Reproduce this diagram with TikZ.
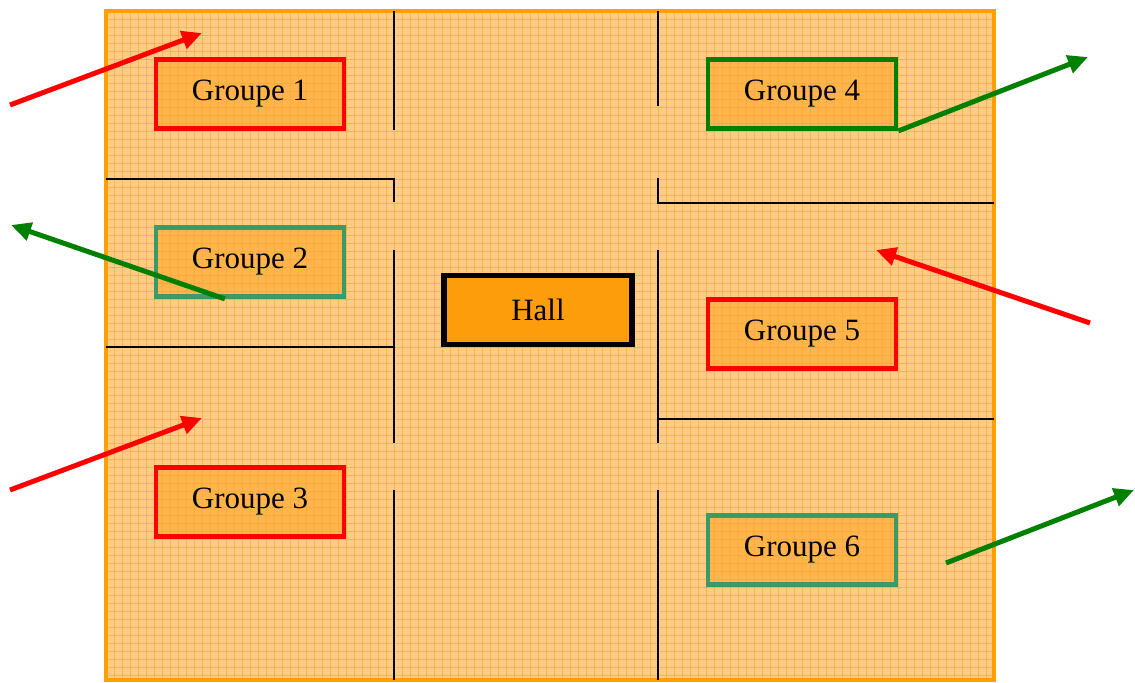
\documentclass[tikz,border=0pt]{standalone}
\usepackage{fontspec}
\setmainfont{Liberation Serif}
\usepackage{tikz}
\usetikzlibrary{arrows.meta,calc}
\definecolor{paleorange}{HTML}{FFCC85}
\definecolor{gridorange}{HTML}{FFA41F}
\definecolor{boxorange}{HTML}{FFA62A}
\definecolor{hallorange}{HTML}{FF9900}
\definecolor{framecol}{HTML}{FFA000}
\definecolor{darkgreen}{HTML}{008000}
\definecolor{tealgreen}{HTML}{3A9A68}
\tikzset{
  room/.style={draw=#1,line width=2.4pt,fill=boxorange,fill opacity=0.6,text opacity=1,
    text=black,minimum width=94pt,minimum height=34.5pt,inner sep=0pt,
    font=\fontsize{15.5}{18}\selectfont},
  wall/.style={line width=0.9pt,black},
  gridline/.style={line width=0.45pt,gridorange,opacity=0.6},
  flow/.style={line width=2.5pt,-{Triangle[length=10pt,width=9pt]}}
}
\def\Wall#1{\draw [wall] #1;}

\begin{document}
\begin{tikzpicture}[x=0.5pt,y=-0.5pt]
  \useasboundingbox (0,0) rectangle (1135,682);
  \fill [paleorange] (106,11) rectangle (994,680);
  \foreach \x in {114,122,...,990} \draw [gridline] (\x,11) -- (\x,680);
  \foreach \y in {19,27,...,676} \draw [gridline] (106,\y) -- (994,\y);
  \draw [framecol,line width=2pt] (106,11) rectangle (994,680);
  % walls
  \Wall{(394,11) -- (394,130)}
  \Wall{(106,179) -- (394,179) -- (394,202)}
  \Wall{(394,250) -- (394,443)}
  \Wall{(106,347) -- (394,347)}
  \Wall{(394,490) -- (394,680)}
  \Wall{(658,11) -- (658,106)}
  \Wall{(658,178) -- (658,203) -- (994,203)}
  \Wall{(658,250) -- (658,443)}
  \Wall{(658,419) -- (994,419)}
  \Wall{(658,490) -- (658,680)}
  % rooms
  \node [room=red] (g1) at (250,94) {Groupe 1};
  \node [room=tealgreen] (g2) at (250,262) {Groupe 2};
  \node [room=red] (g3) at (250,502) {Groupe 3};
  \node [room=darkgreen] (g4) at (802,94) {Groupe 4};
  \node [room=red] (g5) at (802,334) {Groupe 5};
  \node [room=tealgreen] (g6) at (802,550) {Groupe 6};
  \node [room=black,line width=2.8pt,fill=hallorange,fill opacity=0.9] (hall) at (538,310) {Hall};
  % arrows
  \coordinate (in1a) at (10,105);  \coordinate (in1b) at (202,33);
  \coordinate (out2) at (11,225);
  \coordinate (in3a) at (10,490);  \coordinate (in3b) at (202,418);
  \coordinate (out4) at (1088,57);
  \coordinate (in5a) at (1090,323); \coordinate (in5b) at (876,250);
  \coordinate (out6a) at (946,563); \coordinate (out6b) at (1134,490);
  \draw [flow,red] (in1a) -- (in1b);
  \draw [flow,darkgreen] ($(g2.south west)!0.37!(g2.south east)$) -- (out2);
  \draw [flow,red] (in3a) -- (in3b);
  \draw [flow,darkgreen] (g4.south east) -- (out4);
  \draw [flow,red] (in5a) -- (in5b);
  \draw [flow,darkgreen] (out6a) -- (out6b);
\end{tikzpicture}
\end{document}
